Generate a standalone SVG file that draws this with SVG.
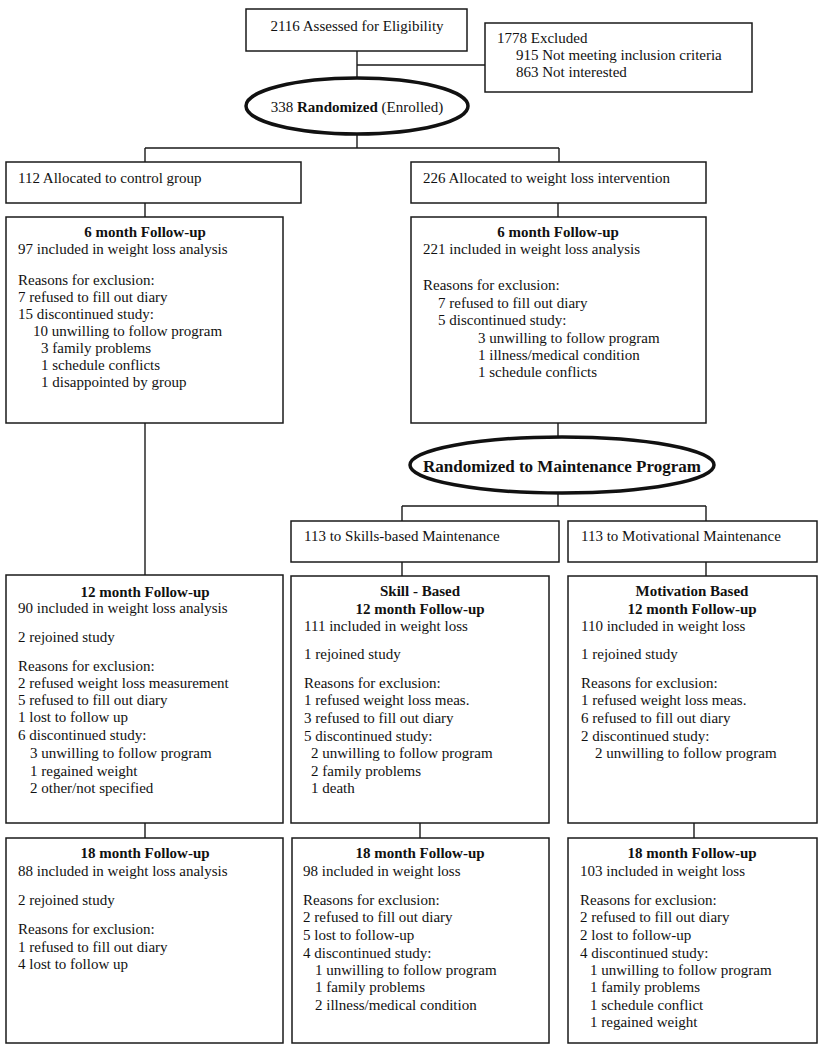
<svg xmlns="http://www.w3.org/2000/svg" width="825" height="1050" viewBox="0 0 825 1050">
<style>
.box{fill:#fff;stroke:#1a1a1a;stroke-width:1.5}
.ell{fill:#fff;stroke:#111;stroke-width:3.5}
.ln{fill:none;stroke:#1a1a1a;stroke-width:1.4}
text{font-family:"Liberation Serif","Times New Roman",serif;font-size:15px;fill:#111}
.b{font-weight:bold}
.c{text-anchor:middle}
.big{font-size:17px;font-weight:bold}
</style>
<rect width="825" height="1050" fill="#fff"/>
<g id="connectors">
<path class="ln" d="M357 51V78M357 65H485"/>
<path class="ln" d="M357 135V148M145 148H559M145 148V162M559 148V162"/>
<path class="ln" d="M145 203V217M558 203V217"/>
<path class="ln" d="M145 423V575"/>
<path class="ln" d="M558 423V437M558 493V506M402 506H706M402 506V521M706 506V521"/>
<path class="ln" d="M402 562V576M706 562V576"/>
<path class="ln" d="M145 823V838M420 823V838M694 823V838"/>
</g>
<g id="assessed"><rect class="box" x="246" y="9" width="221" height="42"/><text class="c" x="357" y="31">2116 Assessed for Eligibility</text></g>
<g id="excluded"><rect class="box" x="485" y="23" width="267" height="69"/>
<text x="497" y="43">1778 Excluded</text><text x="516" y="60">915 Not meeting inclusion criteria</text><text x="516" y="77">863 Not interested</text></g>
<g id="randomized"><ellipse class="ell" cx="357" cy="106" rx="111" ry="28"/><text class="c" x="357" y="112">338 <tspan class="b">Randomized</tspan> (Enrolled)</text></g>
<g id="control"><rect class="box" x="6" y="162" width="295" height="41"/><text x="18" y="183">112 Allocated to control group</text></g>
<g id="intervention"><rect class="box" x="411" y="162" width="295" height="41"/><text x="423" y="183">226 Allocated to weight loss intervention</text></g>
<g id="control6"><rect class="box" x="6" y="217" width="277" height="206"/>
<text class="c b" x="145" y="237">6 month Follow-up</text>
<text x="18" y="254">97 included in weight loss analysis</text>
<text x="18" y="285">Reasons for exclusion:</text>
<text x="18" y="302">7 refused to fill out diary</text>
<text x="18" y="319">15 discontinued study:</text>
<text x="33" y="336">10 unwilling to follow program</text>
<text x="41" y="353">3 family problems</text>
<text x="41" y="370">1 schedule conflicts</text>
<text x="41" y="387">1 disappointed by group</text></g>
<g id="intervention6"><rect class="box" x="411" y="217" width="295" height="206"/>
<text class="c b" x="558" y="237">6 month Follow-up</text>
<text x="423" y="254">221 included in weight loss analysis</text>
<text x="423" y="290">Reasons for exclusion:</text>
<text x="438" y="308">7 refused to fill out diary</text>
<text x="438" y="325">5 discontinued study:</text>
<text x="478" y="343">3 unwilling to follow program</text>
<text x="478" y="360">1 illness/medical condition</text>
<text x="478" y="377">1 schedule conflicts</text></g>
<g id="randomized2"><ellipse class="ell" cx="562" cy="465" rx="152" ry="28"/><text class="c big" x="562" y="472">Randomized to Maintenance Program</text></g>
<g id="skills"><rect class="box" x="291" y="521" width="268" height="41"/><text x="304" y="541">113 to Skills-based Maintenance</text></g>
<g id="motivational"><rect class="box" x="568" y="521" width="249" height="41"/><text x="581" y="541">113 to Motivational Maintenance</text></g>
<g id="control12"><rect class="box" x="6" y="575" width="277" height="248"/>
<text class="c b" x="145" y="597">12 month Follow-up</text>
<text x="18" y="613">90 included in weight loss analysis</text>
<text x="18" y="642">2 rejoined study</text>
<text x="18" y="671">Reasons for exclusion:</text>
<text x="18" y="688">2 refused weight loss measurement</text>
<text x="18" y="705">5 refused to fill out diary</text>
<text x="18" y="722">1 lost to follow up</text>
<text x="18" y="740">6 discontinued study:</text>
<text x="30" y="758">3 unwilling to follow program</text>
<text x="30" y="776">1 regained weight</text>
<text x="30" y="793">2 other/not specified</text></g>
<g id="skill12"><rect class="box" x="291" y="576" width="258" height="247"/>
<text class="c b" x="420" y="596">Skill - Based</text>
<text class="c b" x="420" y="614">12 month Follow-up</text>
<text x="304" y="631">111 included in weight loss</text>
<text x="304" y="659">1 rejoined study</text>
<text x="304" y="688">Reasons for exclusion:</text>
<text x="304" y="705">1 refused weight loss meas.</text>
<text x="304" y="723">3 refused to fill out diary</text>
<text x="304" y="741">5 discontinued study:</text>
<text x="311" y="758">2 unwilling to follow program</text>
<text x="311" y="776">2 family problems</text>
<text x="311" y="793">1 death</text></g>
<g id="motivation12"><rect class="box" x="568" y="576" width="249" height="247"/>
<text class="c b" x="692" y="596">Motivation Based</text>
<text class="c b" x="692" y="614">12 month Follow-up</text>
<text x="581" y="631">110 included in weight loss</text>
<text x="581" y="659">1 rejoined study</text>
<text x="581" y="688">Reasons for exclusion:</text>
<text x="581" y="705">1 refused weight loss meas.</text>
<text x="581" y="723">6 refused to fill out diary</text>
<text x="581" y="741">2 discontinued study:</text>
<text x="595" y="758">2 unwilling to follow program</text></g>
<g id="control18"><rect class="box" x="6" y="838" width="277" height="205"/>
<text class="c b" x="145" y="858">18 month Follow-up</text>
<text x="18" y="876">88 included in weight loss analysis</text>
<text x="18" y="905">2 rejoined study</text>
<text x="18" y="934">Reasons for exclusion:</text>
<text x="18" y="952">1 refused to fill out diary</text>
<text x="18" y="969">4 lost to follow up</text></g>
<g id="skill18"><rect class="box" x="292" y="838" width="257" height="205"/>
<text class="c b" x="420" y="858">18 month Follow-up</text>
<text x="303" y="876">98 included in weight loss</text>
<text x="303" y="905">Reasons for exclusion:</text>
<text x="303" y="922">2 refused to fill out diary</text>
<text x="303" y="940">5 lost to follow-up</text>
<text x="303" y="958">4 discontinued study:</text>
<text x="315" y="975">1 unwilling to follow program</text>
<text x="315" y="992">1 family problems</text>
<text x="315" y="1010">2 illness/medical condition</text></g>
<g id="motivation18"><rect class="box" x="568" y="838" width="249" height="205"/>
<text class="c b" x="692" y="858">18 month Follow-up</text>
<text x="580" y="876">103 included in weight loss</text>
<text x="580" y="905">Reasons for exclusion:</text>
<text x="580" y="922">2 refused to fill out diary</text>
<text x="580" y="940">2 lost to follow-up</text>
<text x="580" y="958">4 discontinued study:</text>
<text x="590" y="975">1 unwilling to follow program</text>
<text x="590" y="992">1 family problems</text>
<text x="590" y="1010">1 schedule conflict</text>
<text x="590" y="1027">1 regained weight</text></g>
</svg>
